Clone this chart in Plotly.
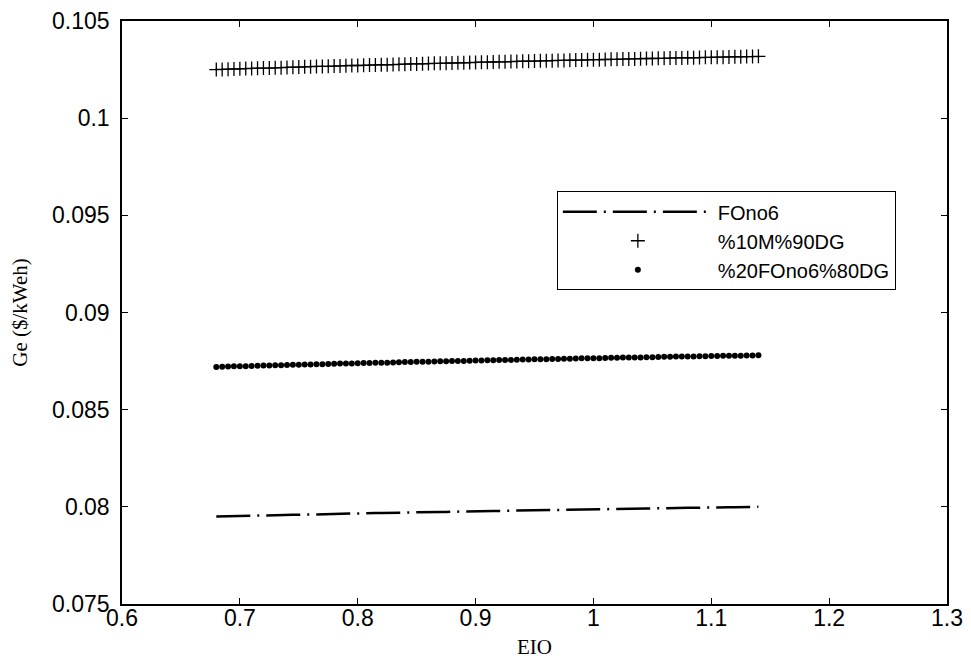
import plotly.graph_objects as go

eio = [0.680, 0.685, 0.690, 0.695, 0.700, 0.705, 0.710, 0.715, 0.720, 0.725,
       0.730, 0.735, 0.740, 0.745, 0.750, 0.755, 0.760, 0.765, 0.770, 0.775,
       0.780, 0.785, 0.790, 0.795, 0.800, 0.805, 0.810, 0.815, 0.820, 0.825,
       0.830, 0.835, 0.840, 0.845, 0.850, 0.855, 0.860, 0.865, 0.870, 0.875,
       0.880, 0.885, 0.890, 0.895, 0.900, 0.905, 0.910, 0.915, 0.920, 0.925,
       0.930, 0.935, 0.940, 0.945, 0.950, 0.955, 0.960, 0.965, 0.970, 0.975,
       0.980, 0.985, 0.990, 0.995, 1.000, 1.005, 1.010, 1.015, 1.020, 1.025,
       1.030, 1.035, 1.040, 1.045, 1.050, 1.055, 1.060, 1.065, 1.070, 1.075,
       1.080, 1.085, 1.090, 1.095, 1.100, 1.105, 1.110, 1.115, 1.120, 1.125,
       1.130, 1.135, 1.140]

ge_fono6 = [0.07950, 0.07951, 0.07951, 0.07952, 0.07953, 0.07953, 0.07954, 0.07955, 0.07956, 0.07956,
            0.07957, 0.07958, 0.07958, 0.07959, 0.07959, 0.07960, 0.07961, 0.07961, 0.07962, 0.07963,
            0.07963, 0.07964, 0.07965, 0.07965, 0.07966, 0.07966, 0.07967, 0.07968, 0.07968, 0.07969,
            0.07969, 0.07970, 0.07970, 0.07971, 0.07972, 0.07972, 0.07973, 0.07973, 0.07974, 0.07974,
            0.07975, 0.07976, 0.07976, 0.07977, 0.07977, 0.07978, 0.07978, 0.07979, 0.07979, 0.07980,
            0.07980, 0.07981, 0.07981, 0.07982, 0.07982, 0.07983, 0.07983, 0.07984, 0.07984, 0.07985,
            0.07985, 0.07986, 0.07986, 0.07987, 0.07987, 0.07988, 0.07988, 0.07989, 0.07989, 0.07990,
            0.07990, 0.07991, 0.07991, 0.07992, 0.07992, 0.07993, 0.07993, 0.07993, 0.07994, 0.07994,
            0.07995, 0.07995, 0.07996, 0.07996, 0.07997, 0.07997, 0.07997, 0.07998, 0.07998, 0.07999,
            0.07999, 0.08000, 0.08000]

ge_10m_90dg = [0.10250, 0.10251, 0.10252, 0.10253, 0.10254, 0.10255, 0.10256, 0.10257, 0.10258, 0.10258,
               0.10259, 0.10260, 0.10261, 0.10262, 0.10263, 0.10264, 0.10265, 0.10266, 0.10266, 0.10267,
               0.10268, 0.10269, 0.10270, 0.10271, 0.10271, 0.10272, 0.10273, 0.10274, 0.10275, 0.10275,
               0.10276, 0.10277, 0.10278, 0.10279, 0.10279, 0.10280, 0.10281, 0.10282, 0.10282, 0.10283,
               0.10284, 0.10285, 0.10285, 0.10286, 0.10287, 0.10288, 0.10288, 0.10289, 0.10290, 0.10290,
               0.10291, 0.10292, 0.10293, 0.10293, 0.10294, 0.10295, 0.10295, 0.10296, 0.10297, 0.10297,
               0.10298, 0.10299, 0.10299, 0.10300, 0.10301, 0.10301, 0.10302, 0.10303, 0.10303, 0.10304,
               0.10305, 0.10305, 0.10306, 0.10307, 0.10307, 0.10308, 0.10308, 0.10309, 0.10310, 0.10310,
               0.10311, 0.10311, 0.10312, 0.10313, 0.10313, 0.10314, 0.10314, 0.10315, 0.10316, 0.10316,
               0.10317, 0.10317, 0.10318]

ge_20fono6_80dg = [0.08720, 0.08721, 0.08722, 0.08723, 0.08723, 0.08724, 0.08725, 0.08726, 0.08727, 0.08727,
                   0.08728, 0.08729, 0.08730, 0.08731, 0.08731, 0.08732, 0.08733, 0.08734, 0.08734, 0.08735,
                   0.08736, 0.08737, 0.08737, 0.08738, 0.08739, 0.08740, 0.08740, 0.08741, 0.08742, 0.08742,
                   0.08743, 0.08744, 0.08745, 0.08745, 0.08746, 0.08747, 0.08747, 0.08748, 0.08749, 0.08749,
                   0.08750, 0.08751, 0.08751, 0.08752, 0.08753, 0.08753, 0.08754, 0.08754, 0.08755, 0.08756,
                   0.08756, 0.08757, 0.08758, 0.08758, 0.08759, 0.08759, 0.08760, 0.08761, 0.08761, 0.08762,
                   0.08762, 0.08763, 0.08764, 0.08764, 0.08765, 0.08765, 0.08766, 0.08767, 0.08767, 0.08768,
                   0.08768, 0.08769, 0.08769, 0.08770, 0.08770, 0.08771, 0.08772, 0.08772, 0.08773, 0.08773,
                   0.08774, 0.08774, 0.08775, 0.08775, 0.08776, 0.08776, 0.08777, 0.08777, 0.08778, 0.08778,
                   0.08779, 0.08779, 0.08780]

series_names = ["FOno6", "%10M%90DG", "%20FOno6%80DG"]
x_ticks = [0.6, 0.7, 0.8, 0.9, 1.0, 1.1, 1.2, 1.3]
x_tick_labels = ["0.6", "0.7", "0.8", "0.9", "1", "1.1", "1.2", "1.3"]
y_ticks = [0.075, 0.08, 0.085, 0.09, 0.095, 0.1, 0.105]
y_tick_labels = ["0.075", "0.08", "0.085", "0.09", "0.095", "0.1", "0.105"]

fig = go.Figure()
fig.add_trace(go.Scatter(
    x=eio, y=ge_fono6, name=series_names[0], mode="lines",
    line=dict(color="black", width=2.5, dash="34px,7px,2px,7px"),
))
fig.add_trace(go.Scatter(
    x=eio, y=ge_10m_90dg, name=series_names[1], mode="markers",
    marker=dict(symbol="cross-thin", size=10, color="black",
                line=dict(color="black", width=1.3)),
))
fig.add_trace(go.Scatter(
    x=eio, y=ge_20fono6_80dg, name=series_names[2], mode="markers",
    marker=dict(symbol="circle", size=6, color="black"),
))

axis_font = dict(family="Liberation Sans, Arial, sans-serif", size=23, color="black")
title_font = dict(family="Liberation Serif, Times New Roman, serif", size=21, color="black")
# the page body adds an 8px offset, so the figure is sized to fit the 971x667 window
fig.update_layout(
    width=955, height=651,
    margin=dict(l=114, r=16, t=13, b=55),
    paper_bgcolor="white", plot_bgcolor="white",
    showlegend=True,
    legend=dict(
        x=0.938, y=0.708, xanchor="right", yanchor="top",
        bordercolor="black", borderwidth=1, bgcolor="white",
        font=dict(family="Liberation Sans, Arial, sans-serif", size=20, color="black"),
        tracegroupgap=0, itemwidth=150,
    ),
    xaxis=dict(
        range=[0.6, 1.3], tickvals=x_ticks, ticktext=x_tick_labels,
        ticks="inside", ticklen=6, tickcolor="black", tickwidth=1,
        showline=True, linecolor="black", linewidth=1.5, mirror="ticks",
        showgrid=False, zeroline=False, tickfont=axis_font, automargin=False,
        ticklabelstandoff=-7, ticklabeloverflow="allow",
        title=dict(text="EIO", font=title_font, standoff=21),
    ),
    yaxis=dict(
        range=[0.075, 0.105], tickvals=y_ticks, ticktext=y_tick_labels,
        ticks="inside", ticklen=6, tickcolor="black", tickwidth=1,
        showline=True, linecolor="black", linewidth=1.5, mirror="ticks",
        showgrid=False, zeroline=False, tickfont=axis_font, automargin=False,
        ticklabelstandoff=6, ticklabeloverflow="allow",
        title=dict(text="Ge ($/kWeh)", font=title_font, standoff=21),
    ),
)

fig.write_html("out.html")
